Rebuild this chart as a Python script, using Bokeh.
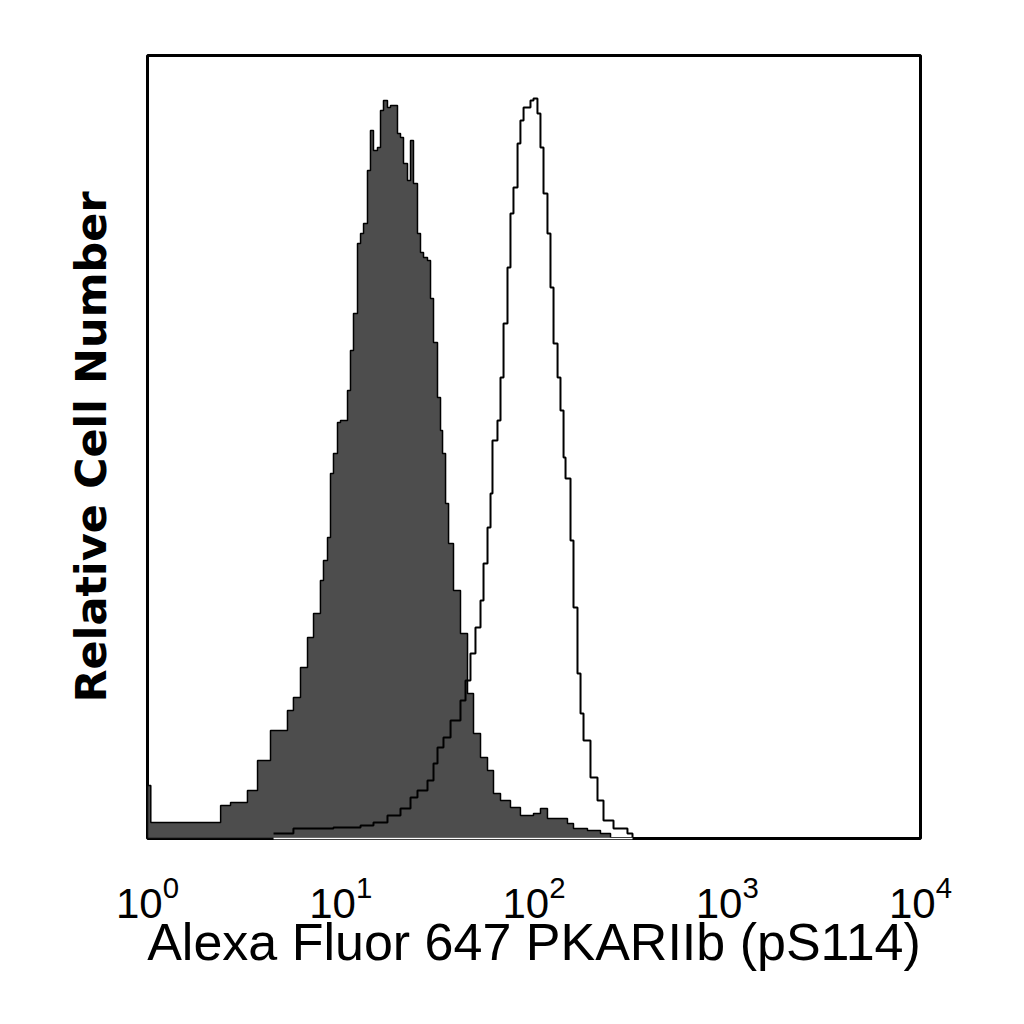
from bokeh.plotting import figure
from bokeh.models import Range1d, FixedTicker
from bokeh.embed import file_html
from bokeh.resources import INLINE

# Control (filled, gray) histogram: intensity (left bin edge) and relative count
control_x = [1.0, 1.04, 2.09, 2.39, 2.69, 3.29, 3.71, 4.33, 5.30, 5.69, 6.19, 6.73, 7.23,
             7.85, 8.14, 8.54, 8.85, 9.17, 9.62, 9.97, 10.84, 11.23, 11.64, 12.21, 12.66,
             13.12, 13.75, 14.25, 14.77, 15.49, 16.06, 16.64, 17.45, 18.09, 18.75, 19.66,
             20.38, 21.12, 22.15, 22.96, 23.79, 24.95, 25.86, 26.81, 28.11, 29.14, 30.20,
             31.67, 32.83, 33.63, 34.86, 36.13, 38.32, 41.65, 45.29, 48.64, 52.87, 57.47,
             61.72, 67.09, 75.55, 85.07, 99.4, 108.0, 117.4, 137.1, 149.0, 160.1, 189.1,
             220.8, 248.9]
control_y = [53, 16, 16, 33, 36, 48, 78, 108, 128, 141, 171, 201, 225,
             258, 278, 301, 365, 385, 416, 418, 448, 488, 525, 595, 605,
             615, 668, 708, 688, 691, 728, 738, 731, 733, 733, 705,
             701, 675, 658, 698, 655, 605, 586, 581, 578, 540, 496,
             441, 408, 385, 335, 295, 248, 205, 145, 105, 81, 68,
             45, 38, 31, 23, 25, 30, 20, 20, 15, 10, 8,
             5, 0]

# Stained (open) histogram
stained_x = [4.49, 5.69, 9.17, 12.66, 14.77, 17.45, 20.38, 22.96, 24.95, 28.11, 30.20,
             31.67, 34.01, 37.0, 41.65, 44.22, 46.91, 49.79, 52.87, 54.80, 57.47, 59.57,
             60.98, 64.71, 67.09, 69.56, 72.92, 75.55, 78.3, 82.2, 85.07, 88.3, 95.9,
             99.4, 104.2, 108.0, 112.0, 117.4, 121.7, 126.2, 132.4, 137.1, 142.2, 145.6,
             154.5, 160.1, 167.9, 174.1, 180.4, 196.0, 213.1, 228.9, 257.9, 304.5, 323.4]
stained_y = [5, 10, 11, 13, 16, 23, 30, 41, 48, 58, 75,
             91, 101, 118, 138, 158, 185, 211, 238, 275, 311, 345,
             398, 418, 461, 515, 571, 625, 651, 695, 718, 731, 738,
             740, 725, 691, 645, 605, 551, 495, 461, 428, 381, 360,
             298, 231, 165, 125, 98, 61, 38, 18, 10, 5, 0]

tick_values = [1, 10, 100, 1000, 10000]
x_title = "Alexa Fluor 647 PKARIIb (pS114)"
y_title = "Relative Cell Number"


def step_after(xs, ys):
    sx, sy = [], []
    for i in range(len(xs)):
        if i > 0:
            sx.append(xs[i])
            sy.append(ys[i - 1])
        sx.append(xs[i])
        sy.append(ys[i])
    return sx, sy


p = figure(width=1000, height=1000, x_axis_type="log",
           x_range=Range1d(1, 10000), y_range=Range1d(0, 783),
           output_backend="svg", toolbar_location=None,
           min_border_left=147, min_border_top=55, min_border_right=80,
           min_border_bottom=162)
p.frame_width = 773
p.frame_height = 783
p.grid.visible = False
p.outline_line_color = "black"
p.outline_line_width = 3
p.background_fill_color = "white"
p.border_fill_color = "white"

# filled control histogram
cx, cy = step_after(control_x, control_y)
p.patch(x=[cx[0]] + cx + [cx[-1]], y=[0] + cy + [0],
        fill_color="#4d4d4d", line_color="black", line_width=1.5)

# open stained histogram
sx, sy = step_after(stained_x, stained_y)
p.line(x=sx, y=sy, line_color="black", line_width=2)
p.line(x=[stained_x[0], stained_x[-1]], y=[0, 0], line_color="white",
       line_width=1.5, level="overlay")

# axes
xa = p.xaxis[0]
xa.ticker = FixedTicker(ticks=tick_values)
xa.major_tick_in = 0
xa.major_tick_out = 0
xa.minor_tick_in = 0
xa.minor_tick_out = 0
xa.axis_line_color = None
xa.major_label_text_font = "Liberation Sans"
xa.major_label_text_font_size = "42px"
xa.major_label_text_color = "black"
xa.major_label_standoff = 36
xa.axis_label = x_title
xa.axis_label_text_font = "Liberation Sans"
xa.axis_label_text_font_style = "normal"
xa.axis_label_text_font_size = "52px"
xa.axis_label_text_color = "black"
xa.axis_label_standoff = -8

ya = p.yaxis[0]
ya.ticker = FixedTicker(ticks=[])
ya.major_tick_in = 0
ya.major_tick_out = 0
ya.minor_tick_in = 0
ya.minor_tick_out = 0
ya.axis_line_color = None
ya.major_label_text_font_size = "0px"
ya.major_label_standoff = 0
ya.axis_label = y_title
ya.axis_label_text_font = "DejaVu Sans"
ya.axis_label_text_font_style = "bold"
ya.axis_label_text_font_size = "43px"
ya.axis_label_text_color = "black"
ya.axis_label_standoff = 32

open("out.html", "w").write(file_html(p, INLINE))
